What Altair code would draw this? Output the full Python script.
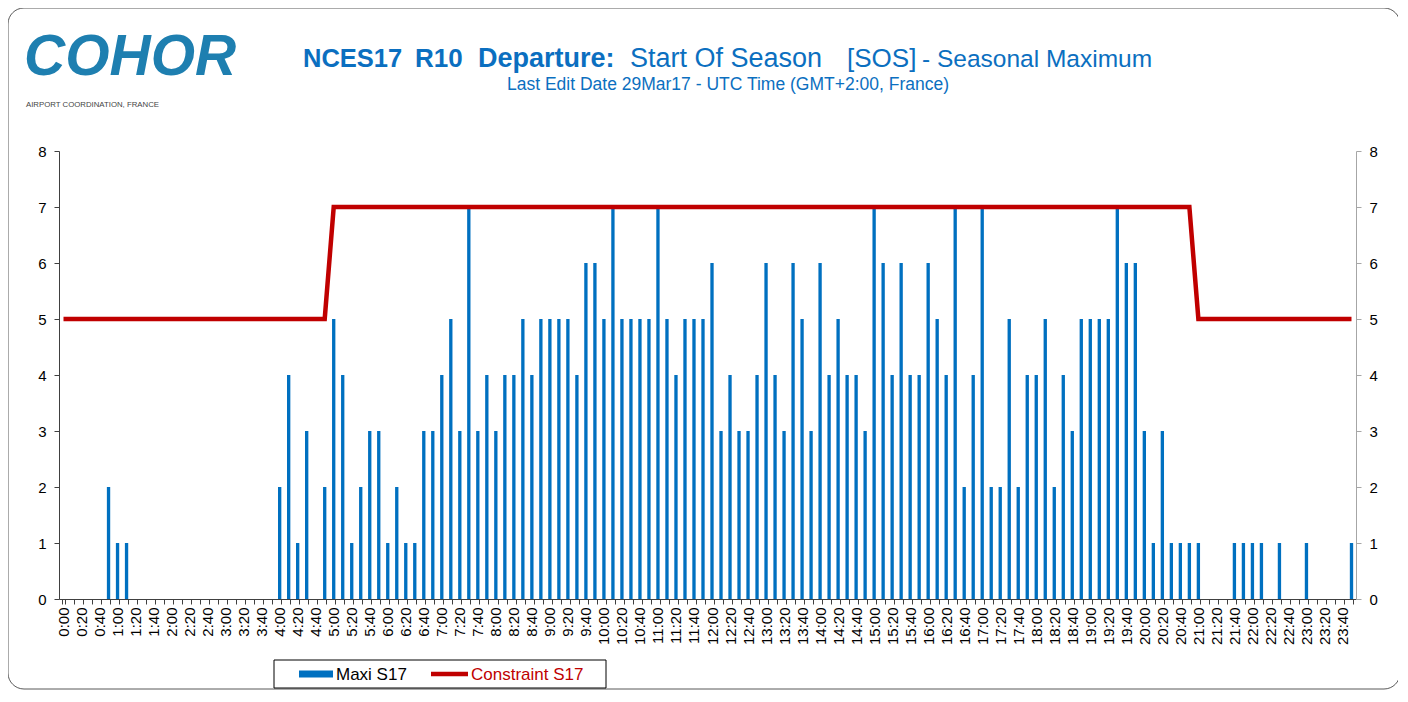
import altair as alt
import pandas as pd

# ---- data -------------------------------------------------------------
times = [f"{h}:{m:02d}" for h in range(24) for m in (0, 10, 20, 30, 40, 50)]

maxi = [
    0, 0, 0, 0, 0, 2,   # 0:00 - 0:50
    1, 1, 0, 0, 0, 0,   # 1:00
    0, 0, 0, 0, 0, 0,   # 2:00
    0, 0, 0, 0, 0, 0,   # 3:00
    2, 4, 1, 3, 0, 2,   # 4:00
    5, 4, 1, 2, 3, 3,   # 5:00
    1, 2, 1, 1, 3, 3,   # 6:00
    4, 5, 3, 7, 3, 4,   # 7:00
    3, 4, 4, 5, 4, 5,   # 8:00
    5, 5, 5, 4, 6, 6,   # 9:00
    5, 7, 5, 5, 5, 5,   # 10:00
    7, 5, 4, 5, 5, 5,   # 11:00
    6, 3, 4, 3, 3, 4,   # 12:00
    6, 4, 3, 6, 5, 3,   # 13:00
    6, 4, 5, 4, 4, 3,   # 14:00
    7, 6, 4, 6, 4, 4,   # 15:00
    6, 5, 4, 7, 2, 4,   # 16:00
    7, 2, 2, 5, 2, 4,   # 17:00
    4, 5, 2, 4, 3, 5,   # 18:00
    5, 5, 5, 7, 6, 6,   # 19:00
    3, 1, 3, 1, 1, 1,   # 20:00
    1, 0, 0, 0, 1, 1,   # 21:00
    1, 1, 0, 1, 0, 0,   # 22:00
    1, 0, 0, 0, 0, 1,   # 23:00
]

constraint = [
    5, 5, 5, 5, 5, 5,   # 0:00
    5, 5, 5, 5, 5, 5,   # 1:00
    5, 5, 5, 5, 5, 5,   # 2:00
    5, 5, 5, 5, 5, 5,   # 3:00
    5, 5, 5, 5, 5, 5,   # 4:00
    7, 7, 7, 7, 7, 7,   # 5:00
    7, 7, 7, 7, 7, 7,   # 6:00
    7, 7, 7, 7, 7, 7,   # 7:00
    7, 7, 7, 7, 7, 7,   # 8:00
    7, 7, 7, 7, 7, 7,   # 9:00
    7, 7, 7, 7, 7, 7,   # 10:00
    7, 7, 7, 7, 7, 7,   # 11:00
    7, 7, 7, 7, 7, 7,   # 12:00
    7, 7, 7, 7, 7, 7,   # 13:00
    7, 7, 7, 7, 7, 7,   # 14:00
    7, 7, 7, 7, 7, 7,   # 15:00
    7, 7, 7, 7, 7, 7,   # 16:00
    7, 7, 7, 7, 7, 7,   # 17:00
    7, 7, 7, 7, 7, 7,   # 18:00
    7, 7, 7, 7, 7, 7,   # 19:00
    7, 7, 7, 7, 7, 7,   # 20:00
    5, 5, 5, 5, 5, 5,   # 21:00
    5, 5, 5, 5, 5, 5,   # 22:00
    5, 5, 5, 5, 5, 5,   # 23:00
]

y_ticks = [0, 1, 2, 3, 4, 5, 6, 7, 8]

title_words = ["NCES17", "R10", "Departure:"]
title_main = "Start Of Season"
title_code = "[SOS]"
title_tail = "- Seasonal Maximum"
subtitle = "Last Edit Date 29Mar17 - UTC Time (GMT+2:00, France)"
series_names = ["Maxi S17", "Constraint S17"]

# ---- styling ----------------------------------------------------------
FONT = "Liberation Sans"
BLUE = "#0070c0"
RED = "#c00000"
TITLE_BLUE = "#0b6fc0"

df = pd.DataFrame({"time": times, "maxi": maxi, "constraint": constraint})
dummy = pd.DataFrame({"a": [0]})

x_enc = alt.X(
    "time:O",
    sort=times,
    scale=alt.Scale(domain=times, paddingInner=0.63, paddingOuter=0.315),
    axis=alt.Axis(
        title=None,
        labelAngle=-90,
        labelExpr="isValid(datum.value) && indexof(['00', '20', '40'], slice(datum.value + '', -2)) >= 0 ? datum.value : ''",
        labelOverlap=False,
        tickBand="extent",
        tickSize=5,
        tickColor="#404040",
        domainColor="#404040",
        labelFont=FONT,
        labelFontSize=15,
        labelColor="#000000",
        labelPadding=3,
        grid=False,
    ),
)

base = alt.Chart(df)

bars = base.mark_bar(color=BLUE).encode(
    x=x_enc,
    y=alt.Y(
        "maxi:Q",
        scale=alt.Scale(domain=[0, 8], nice=False),
        axis=alt.Axis(
            orient="left", values=y_ticks, title=None, grid=False,
            tickSize=5, tickColor="#404040", domainColor="#404040",
            labelFont=FONT, labelFontSize=15, labelColor="#000000", labelPadding=8,
        ),
    ),
)

line = base.mark_line(color=RED, strokeWidth=4.5).encode(
    x=x_enc,
    y=alt.Y(
        "constraint:Q",
        scale=alt.Scale(domain=[0, 8], nice=False),
        axis=alt.Axis(
            orient="right", values=y_ticks, title=None, grid=False,
            tickSize=5, tickColor="#a6a6a6", domainColor="#a6a6a6",
            labelFont=FONT, labelFontSize=15, labelColor="#000000", labelPadding=8,
        ),
    ),
)

# ---- decorations (frame, logo, titles, legend) ------------------------
def txt(s, x, y, size, color, weight="normal", style="normal", align="left", font=FONT):
    return alt.Chart(dummy).mark_text(
        text=s, align=align, baseline="alphabetic", font=font, fontSize=size,
        fontWeight=weight, fontStyle=style, color=color,
    ).encode(x=alt.value(x), y=alt.value(y))

frame = alt.Chart(dummy).mark_rect(
    filled=False, stroke="#595959", strokeWidth=1, cornerRadius=16
).encode(x=alt.value(-51), x2=alt.value(1341), y=alt.value(-143), y2=alt.value(538))

logo = txt("COHOR", -35, -76, 57, "#1e7fb0", weight="bold", style="italic")
logo_sub = txt("AIRPORT COORDINATION, FRANCE", -33, -44, 7.8, "#444444")

t1a = txt(title_words[0], 244, -84, 25.5, TITLE_BLUE, weight="bold")
t1b = txt(title_words[1], 356, -84, 26, TITLE_BLUE, weight="bold")
t1c = txt(title_words[2], 419, -84, 27, TITLE_BLUE, weight="bold")
t2 = txt(title_main, 571, -84, 27, TITLE_BLUE)
t2b = txt(title_code, 788, -84, 26, TITLE_BLUE)
t3 = txt(title_tail, 863, -84, 24.5, TITLE_BLUE)
t4 = txt(subtitle, 669, -61, 17.5, TITLE_BLUE, align="center")

leg_box = alt.Chart(dummy).mark_rect(
    filled=False, stroke="#000000", strokeWidth=1
).encode(x=alt.value(215), x2=alt.value(547), y=alt.value(509), y2=alt.value(537))
leg_bar = alt.Chart(dummy).mark_rect(color=BLUE).encode(
    x=alt.value(240), x2=alt.value(274), y=alt.value(519.5), y2=alt.value(526.5)
)
leg_line = alt.Chart(dummy).mark_rule(color=RED, strokeWidth=4.5).encode(
    x=alt.value(372), x2=alt.value(409), y=alt.value(523)
)
leg_t1 = txt(series_names[0], 277, 529, 17, "#000000")
leg_t2 = txt(series_names[1], 412, 529, 17, RED)

chart = alt.layer(
    bars, line,
    frame, logo, logo_sub, t1a, t1b, t1c, t2, t2b, t3, t4,
    leg_box, leg_bar, leg_line, leg_t1, leg_t2,
).resolve_scale(y="independent").properties(
    width=1297,
    height=448,
    padding={"left": 51, "top": 143, "right": 42, "bottom": 91},
    autosize=alt.AutoSizeParams(type="none"),
    background="#ffffff",
).configure_view(stroke=None)

chart.save("out.html", embed_options={"renderer": "svg", "actions": False})
